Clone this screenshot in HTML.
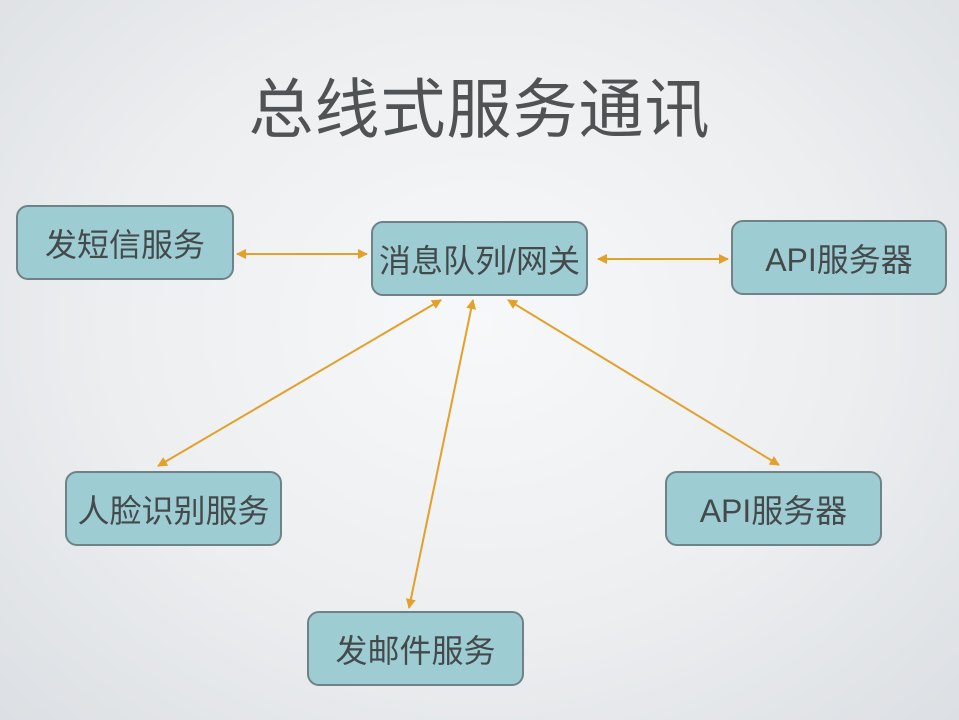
<!DOCTYPE html>
<html><head><meta charset="utf-8"><style>
html,body{margin:0;padding:0}
body{width:959px;height:720px;overflow:hidden;position:relative;
background:radial-gradient(ellipse at 50% 45%,#f7f8f9 0%,#eceef0 55%,#dcdfe3 100%);
font-family:"Liberation Sans","Noto Sans CJK SC",sans-serif}
.t{position:absolute;left:0;width:959px;top:70px;text-align:center;font-size:65px;color:#505355;letter-spacing:1px;line-height:80px}
.b{position:absolute;background:#9dcdd3;border:2px solid #6f8287;border-radius:12px;box-sizing:border-box;
display:flex;align-items:center;justify-content:center;font-size:32px;color:#444a4c}
svg{position:absolute;left:0;top:0}
</style></head><body>
<div class="t">总线式服务通讯</div>
<svg width="959" height="720">
<defs><marker id="a" viewBox="0 0 10 10" refX="9" refY="5" markerWidth="5" markerHeight="5" orient="auto-start-reverse"><path d="M0,0L10,5L0,10z" fill="#e3a02a"/></marker></defs>
<g stroke="#e3a02a" stroke-width="2" marker-start="url(#a)" marker-end="url(#a)">
<line x1="237" y1="254" x2="367" y2="254"/>
<line x1="598" y1="259" x2="728" y2="259"/>
<line x1="441" y1="300" x2="158" y2="466"/>
<line x1="473" y1="300" x2="409" y2="608"/>
<line x1="508" y1="300" x2="779" y2="465"/>
</g></svg>
<div class="b" style="left:16px;top:205px;width:218px;height:75px">发短信服务</div>
<div class="b" style="left:371px;top:221px;width:217px;height:75px">消息队列/网关</div>
<div class="b" style="left:731px;top:220px;width:216px;height:75px">API服务器</div>
<div class="b" style="left:65px;top:471px;width:217px;height:75px">人脸识别服务</div>
<div class="b" style="left:665px;top:471px;width:217px;height:75px">API服务器</div>
<div class="b" style="left:307px;top:611px;width:217px;height:75px">发邮件服务</div>
</body></html>
